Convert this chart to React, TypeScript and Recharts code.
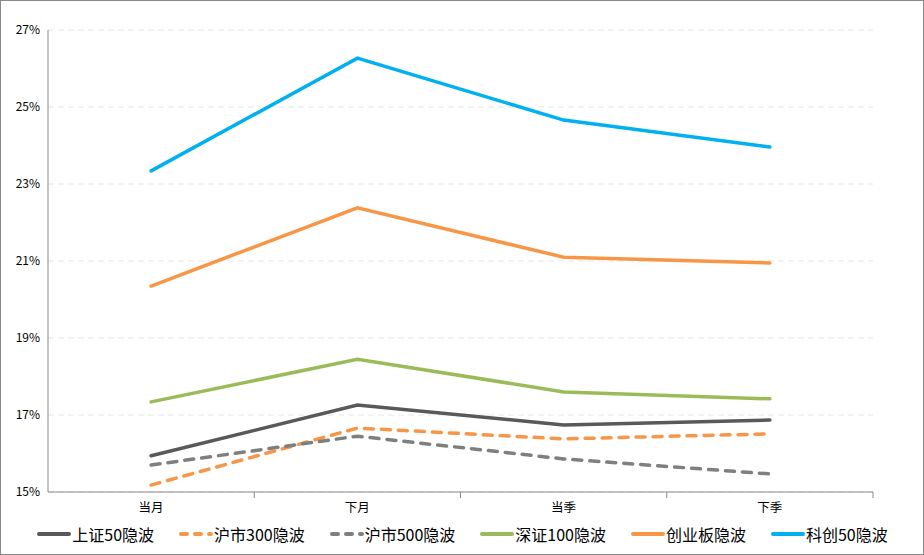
import { LineChart, Line, XAxis, YAxis, CartesianGrid, Legend } from 'recharts'

const categories = ['当月', '下月', '当季', '下季']

const sz50 = [15.94, 17.26, 16.74, 16.87]
const hs300 = [15.18, 16.66, 16.38, 16.51]
const hs500 = [15.7, 16.45, 15.86, 15.47]
const sz100 = [17.34, 18.45, 17.6, 17.42]
const cyb = [20.35, 22.38, 21.1, 20.95]
const kc50 = [23.34, 26.27, 24.66, 23.96]

const yTicks = [15, 17, 19, 21, 23, 25, 27]

const data = categories.map((c, i) => ({
  name: c,
  sz50: sz50[i],
  hs300: hs300[i],
  hs500: hs500[i],
  sz100: sz100[i],
  cyb: cyb[i],
  kc50: kc50[i],
}))

const series = [
  { key: 'sz50', name: '上证50隐波', color: '#595959', dash: undefined },
  { key: 'hs300', name: '沪市300隐波', color: '#F79646', dash: '9 8' },
  { key: 'hs500', name: '沪市500隐波', color: '#7F7F7F', dash: '9 8' },
  { key: 'sz100', name: '深证100隐波', color: '#9BBB59', dash: undefined },
  { key: 'cyb', name: '创业板隐波', color: '#F79646', dash: undefined },
  { key: 'kc50', name: '科创50隐波', color: '#00B0F0', dash: undefined },
]

const FONT = '"Noto Sans CJK SC", "Noto Sans", sans-serif'

// category label plus a small tick mark on the band edge to the right
const XTick = (props: any) => {
  const { x, y, payload } = props
  const half = payload.offset || 0
  return (
    <g>
      <text x={x} y={y + 12} textAnchor="middle" fontSize={12.5} fill="#000" fontFamily={FONT}>
        {payload.value}
      </text>
      {half > 0 && (
        <line x1={x + half} x2={x + half} y1={y - 8} y2={y - 2} stroke="#898989" strokeWidth={1} />
      )}
    </g>
  )
}

const renderLegend = () => (
  <div
    style={{
      display: 'flex',
      justifyContent: 'center',
      gap: 24,
      fontFamily: FONT,
      fontSize: 16,
      color: '#000',
      whiteSpace: 'nowrap',
      width: 922,
    }}
  >
    {series.map((s) => (
      <div key={s.key} style={{ display: 'flex', alignItems: 'center' }}>
        <svg width={36} height={10}>
          <line
            x1={3}
            y1={5}
            x2={33}
            y2={5}
            stroke={s.color}
            strokeWidth={4}
            strokeLinecap="round"
            strokeDasharray={s.dash ? '6 8' : undefined}
          />
        </svg>
        <span>{s.name}</span>
      </div>
    ))}
  </div>
)

export default function App() {
  return (
    <div
      style={{
        position: 'absolute',
        top: 0,
        left: 0,
        width: 922,
        height: 553,
        border: '1px solid #898989',
        background: '#fff',
      }}
    >
      <LineChart width={922} height={553} data={data} margin={{ top: 29, right: 50, left: 0, bottom: 0 }}>
        <CartesianGrid vertical={false} stroke="#e6e6e6" strokeDasharray="6 4" />
        <XAxis
          dataKey="name"
          scale="band"
          stroke="#898989"
          tickLine={false}
          tick={<XTick />}
          height={30}
          interval={0}
        />
        <YAxis
          domain={[15, 27]}
          ticks={yTicks}
          width={47}
          stroke="#898989"
          tickLine={false}
          tickFormatter={(v: number) => `${v}%`}
          tick={{ fontSize: 12, fill: '#000', fontFamily: FONT }}
          interval={0}
        />
        <Legend
          verticalAlign="bottom"
          height={32}
          content={renderLegend}
          wrapperStyle={{ left: 0, width: 922 }}
        />
        {series.map((s) => (
          <Line
            key={s.key}
            dataKey={s.key}
            name={s.name}
            stroke={s.color}
            strokeWidth={3.5}
            strokeDasharray={s.dash}
            strokeLinecap="round"
            dot={false}
            activeDot={false}
            isAnimationActive={false}
          />
        ))}
      </LineChart>
    </div>
  )
}
